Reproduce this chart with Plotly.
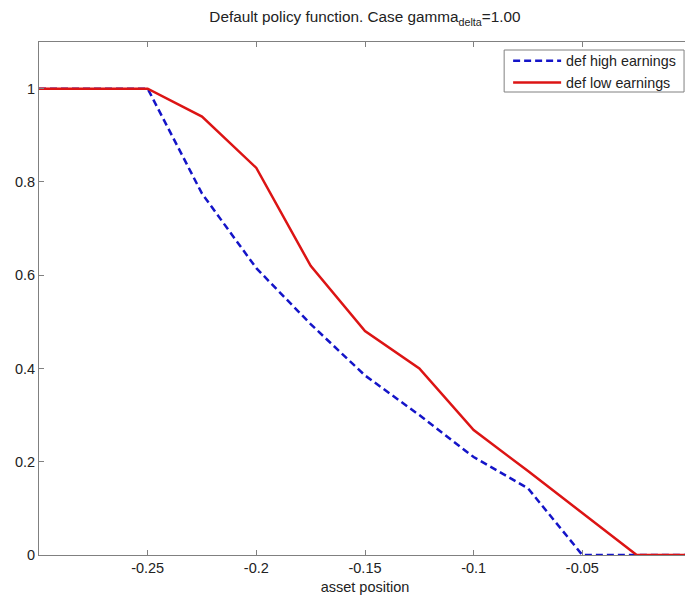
import plotly.graph_objects as go

asset = [-0.3, -0.275, -0.25, -0.225, -0.2, -0.175, -0.15, -0.125, -0.1, -0.075, -0.05, -0.025, 0.0]
def_high = [1.0, 1.0, 1.0, 0.775, 0.615, 0.495, 0.385, 0.30, 0.21, 0.143, 0.0, 0.0, 0.0]
def_low = [1.0, 1.0, 1.0, 0.94, 0.83, 0.62, 0.48, 0.40, 0.268, 0.18, 0.09, 0.0, 0.0]
x_ticks = [-0.25, -0.2, -0.15, -0.1, -0.05, 0]
x_labels = ["-0.25", "-0.2", "-0.15", "-0.1", "-0.05", "0"]
y_ticks = [0, 0.2, 0.4, 0.6, 0.8, 1]
y_labels = ["0", "0.2", "0.4", "0.6", "0.8", "1"]

FONT = "Liberation Sans, Arial"
W, H = 693, 600
ML, MR, MT, MB = 31, 6, 34, 53
PW, PH = W - ML - MR, H - MT - MB

def px(xf):
    return (xf - ML) / PW

def py(yf):
    return 1 - (yf - MT) / PH

fig = go.Figure()
fig.add_trace(go.Scatter(x=asset, y=def_high, mode="lines", name="def high earnings",
                         line=dict(color="#1414c8", width=2.5, dash="7px,4px")))
fig.add_trace(go.Scatter(x=asset, y=def_low, mode="lines", name="def low earnings",
                         line=dict(color="#dc1414", width=2.5)))

axis_common = dict(showgrid=False, zeroline=False, showline=True, linecolor="#808080",
                   linewidth=1, mirror="ticks", ticks="inside", ticklen=5, tickcolor="#808080",
                   tickfont=dict(family=FONT, size=14.5, color="#222"))
fig.update_xaxes(range=[-0.3, 0], tickvals=x_ticks, ticktext=x_labels,
                 title=dict(text="asset position", standoff=6,
                            font=dict(family=FONT, size=14.5, color="#222")),
                 **axis_common)
fig.update_yaxes(range=[0, 1.1], tickvals=y_ticks, ticktext=y_labels, **axis_common)

# legend frame
fig.add_shape(type="rect", xref="paper", yref="paper",
              x0=px(499), x1=px(680), y0=py(84), y1=py(42),
              line=dict(color="#808080", width=1), fillcolor="white", layer="above")

fig.update_layout(
    width=W, height=H,
    margin=dict(l=ML, r=MR, t=MT, b=MB),
    paper_bgcolor="white", plot_bgcolor="white",
    title=dict(text="Default policy function. Case gamma<sub>delta</sub>=1.00",
               x=0.515, xanchor="center", y=0.985, yanchor="middle",
               font=dict(family=FONT, size=15.3, color="#222")),
    legend=dict(x=px(503), y=py(37), xanchor="left", yanchor="top",
                bgcolor="rgba(0,0,0,0)", borderwidth=0,
                itemwidth=48, tracegroupgap=0,
                font=dict(family=FONT, size=14.3, color="#222")),
)
fig.write_html("out.html")
